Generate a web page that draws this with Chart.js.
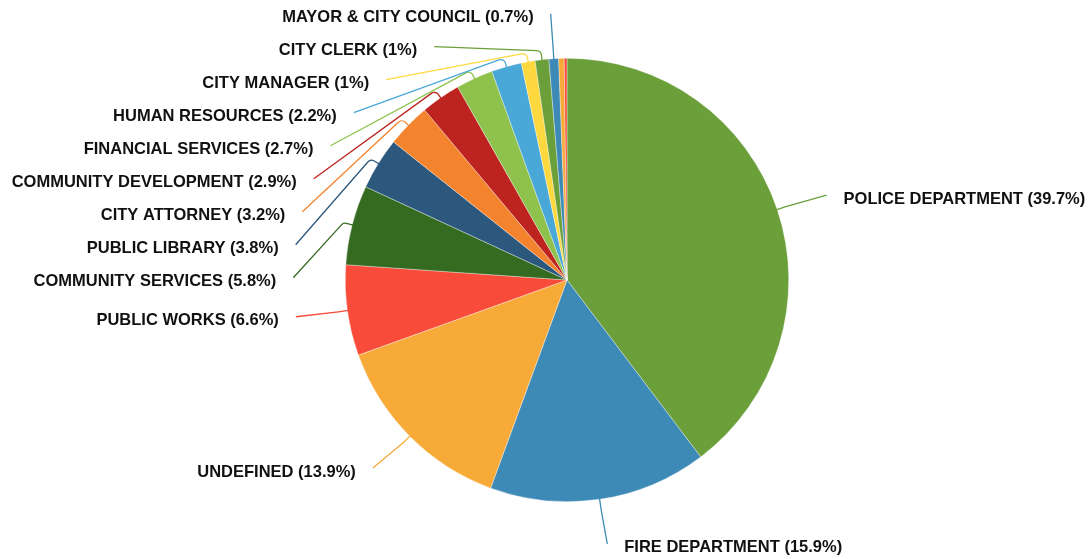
<!DOCTYPE html>
<html>
<head>
<meta charset="utf-8">
<script src="https://cdn.jsdelivr.net/npm/chart.js"></script>
<style>
  html, body { margin: 0; padding: 0; background: #fff; }
  #wrap { position: relative; width: 1091px; height: 559px; }
</style>
</head>
<body>
<div id="wrap"><canvas id="budgetPie"></canvas></div>
<script>
// departments, clockwise from 12 o'clock
const departments = [
  'POLICE DEPARTMENT', 'FIRE DEPARTMENT', 'UNDEFINED', 'PUBLIC WORKS',
  'COMMUNITY SERVICES', 'PUBLIC LIBRARY', 'CITY ATTORNEY', 'COMMUNITY DEVELOPMENT',
  'FINANCIAL SERVICES', 'HUMAN RESOURCES', 'CITY MANAGER', 'CITY CLERK',
  'MAYOR & CITY COUNCIL', 'OTHER A', 'OTHER B'
];
const shares = [39.7, 15.9, 13.9, 6.6, 5.8, 3.8, 3.2, 2.9, 2.7, 2.2, 1, 1, 0.7, 0.4, 0.2];
const palette = [
  '#6a9f3a', '#3e8ab6', '#f7aa38', '#f84b39', '#356a21', '#2c587e',
  '#f3832d', '#bd241f', '#8ec24c', '#4aa8d8', '#fed83f'
];
const sliceColors = shares.map((v, i) => palette[i % palette.length]);
const minLabelled = 0.5;

// callout labels on an ellipse around the pie, stacked so they don't collide
const calloutPlugin = {
  id: 'callouts',
  afterDraw(chart) {
    const ctx = chart.ctx;
    const meta = chart.getDatasetMeta(0);
    const lineGap = 33, textGap = 17;
    const items = [];
    meta.data.forEach((arc, i) => {
      if (shares[i] < minLabelled) return;
      const p = arc.getProps(['x', 'y', 'startAngle', 'endAngle', 'outerRadius'], true);
      const mid = (p.startAngle + p.endAngle) / 2;
      const r = p.outerRadius;
      const A = r + 52, B = r + 45;
      items.push({
        i, mid, cx: p.x, cy: p.y, r, A, B,
        side: Math.cos(mid) >= 0 ? 1 : -1,
        ay: p.y + B * Math.sin(mid)
      });
    });
    [1, -1].forEach(side => {
      const group = items.filter(it => it.side === side).sort((a, b) => a.ay - b.ay);
      let prev = -Infinity;
      group.forEach(it => {
        it.ay = Math.max(it.ay, prev + lineGap);
        prev = it.ay;
      });
    });
    ctx.save();
    ctx.font = 'bold 16.5px "Liberation Sans", Arial, sans-serif';
    ctx.textBaseline = 'middle';
    items.forEach(it => {
      const dy = (it.ay - it.cy) / it.B;
      const ax = it.cx + it.side * it.A * Math.sqrt(Math.max(0, 1 - dy * dy));
      const x0 = it.cx + (it.r - 1) * Math.cos(it.mid);
      const y0 = it.cy + (it.r - 1) * Math.sin(it.mid);
      const x1 = it.cx + (it.r + 9) * Math.cos(it.mid);
      const y1 = it.cy + (it.r + 9) * Math.sin(it.mid);
      ctx.strokeStyle = sliceColors[it.i];
      ctx.lineWidth = 1.3;
      ctx.beginPath();
      ctx.moveTo(x0, y0);
      ctx.arcTo(x1, y1, ax, it.ay, 5);
      ctx.lineTo(ax, it.ay);
      ctx.stroke();
      ctx.fillStyle = '#111';
      ctx.textAlign = it.side > 0 ? 'left' : 'right';
      ctx.fillText(departments[it.i] + ' (' + shares[it.i] + '%)', ax + it.side * textGap, it.ay + 4);
    });
    ctx.restore();
  }
};

new Chart(document.getElementById('budgetPie'), {
  type: 'pie',
  data: {
    labels: departments,
    datasets: [{
      data: shares,
      backgroundColor: sliceColors,
      borderColor: 'rgba(255,255,255,0.7)',
      borderWidth: 0.5
    }]
  },
  options: {
    responsive: true,
    maintainAspectRatio: false,
    animation: false,
    layout: { padding: { left: 345, right: 302, top: 58, bottom: 57 } },
    plugins: {
      legend: { display: false },
      tooltip: { enabled: false }
    }
  },
  plugins: [calloutPlugin]
});
</script>
</body>
</html>
